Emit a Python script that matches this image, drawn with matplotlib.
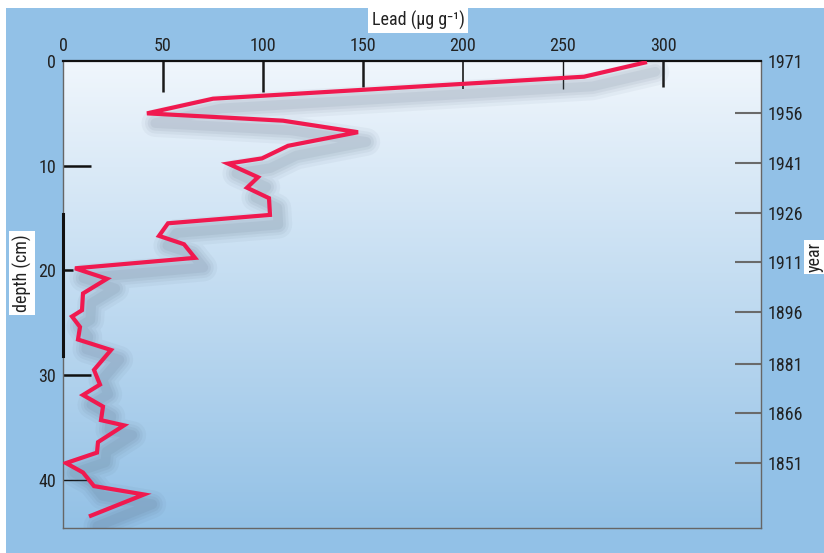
import matplotlib
matplotlib.use("Agg")
import matplotlib.pyplot as plt
import matplotlib.patheffects as pe
from matplotlib.patches import Rectangle
import numpy as np

plt.rcParams['font.family'] = ['Roboto Condensed', 'Liberation Sans', 'DejaVu Sans']

# Data
lead = [292, 260.5, 75, 42, 110, 147.5, 112.5, 99.5, 82.5, 97.5, 92, 103, 103.5,
        52.5, 48, 60.5, 66, 6, 22, 10, 9.5, 4.5, 8.5, 7.5, 24, 15.5, 18.5, 10,
        20, 19, 30.5, 17.5, 17, 1.5, 10, 15.5, 40.5, 13]
depth = [0.1, 1.5, 3.6, 5.0, 5.7, 6.8, 8.1, 9.3, 9.8, 11.1, 12.1, 13.1, 14.7,
         15.5, 16.7, 17.5, 18.8, 19.8, 20.8, 22.2, 23.8, 24.4, 25.4, 26.6, 27.6,
         29.5, 30.9, 31.9, 33.0, 34.3, 34.8, 36.4, 37.4, 38.4, 39.3, 40.6, 41.4, 43.5]
lead_ticks = [0, 50, 100, 150, 200, 250, 300]
depth_ticks = [0, 10, 20, 30, 40]
years = ['1971', '1956', '1941', '1926', '1911', '1896', '1881', '1866', '1851']
year_depth = [0, 4.95, 9.75, 14.5, 19.2, 24.0, 28.9, 33.6, 38.4]

W, H = 824, 553
FS = 13
fig = plt.figure(figsize=(W / 100, H / 100), dpi=100)
fig.patch.set_facecolor('white')
fig.patches.append(Rectangle((6 / W, 0), 1, (H - 8) / H, transform=fig.transFigure,
                             facecolor='#92c1e7', edgecolor='none', zorder=-10))

ax = fig.add_axes([63 / W, 1 - 528 / H, (761 - 63) / W, (528 - 61) / H])
ax.set_xlim(0, 349)
ax.set_ylim(44.6, 0)

# gradient background
grad = np.linspace(0, 1, 256).reshape(-1, 1)
top = np.array([0xf0, 0xf6, 0xfc]) / 255
bot = np.array([0x93, 0xc1, 0xe6]) / 255
img = top[None, None, :] * (1 - grad[:, :, None]) + bot[None, None, :] * grad[:, :, None]
ax.imshow(img, extent=[0, 1, 0, 1], transform=ax.transAxes, aspect='auto',
          zorder=0, origin='upper')

# line with soft shadow
shadow = []
for lw, a in [(20, 0.05), (15, 0.06), (11, 0.07), (7, 0.08)]:
    shadow.append(pe.SimpleLineShadow(offset=(6, -7), shadow_color='#4a5d72',
                                      alpha=a, linewidth=lw, joinstyle='round',
                                      capstyle='round'))
shadow.append(pe.Normal())
ax.plot(lead, depth, color='#f0194f', lw=3.0, solid_joinstyle='miter',
        solid_capstyle='butt', zorder=3, path_effects=shadow)

# x axis on top
ax.xaxis.set_ticks_position('top')
ax.xaxis.set_label_position('top')
ax.set_xticks(lead_ticks)
ax.set_xticklabels([str(v) for v in lead_ticks])
ax.tick_params(axis='x', which='major', direction='in', length=22, width=1.5,
               colors='#1a1a1a', labelsize=FS, pad=4, labelcolor='#222222')
tick_len = [0, 22, 22, 19, 20, 20, 19]
tick_col = ['#111111', '#111111', '#111111', '#111111', '#777777', '#555555', '#111111']
tick_w = [1.5, 1.8, 1.8, 1.8, 1.2, 1.0, 1.8]
for t, L, c, w in zip(ax.xaxis.get_major_ticks(), tick_len, tick_col, tick_w):
    t.tick2line.set_markersize(L)
    t.tick2line.set_color(c)
    t.tick2line.set_markeredgewidth(w)

# left depth axis
ax.set_yticks(depth_ticks)
ax.set_yticklabels([str(v) for v in depth_ticks])
ax.tick_params(axis='y', which='major', direction='in', length=20, width=1.8,
               colors='#111111', labelsize=FS, pad=5, labelcolor='#222222',
               right=False)
ylen = [0, 20, 7, 20, 18]
ycol = ['#111111', '#111111', '#111111', '#111111', '#555555']
yw = [1.8, 1.8, 1.8, 1.8, 1.0]
for t, L, c, w in zip(ax.yaxis.get_major_ticks(), ylen, ycol, yw):
    t.tick1line.set_markersize(L)
    t.tick1line.set_color(c)
    t.tick1line.set_markeredgewidth(w)

for s in ['left', 'right', 'bottom']:
    ax.spines[s].set_color('#666666')
    ax.spines[s].set_linewidth(1.0)
ax.spines['top'].set_color('#111111')
ax.spines['top'].set_linewidth(1.6)
ax.axvline(0, ymin=1 - 28.2 / 44.6, ymax=1 - 14.6 / 44.6, color='#111111',
           lw=2.2, zorder=5, clip_on=False)

# right year axis
ax2 = ax.twinx()
ax2.set_ylim(44.6, 0)
ax2.set_yticks(year_depth)
ax2.set_yticklabels(years)
ax2.tick_params(axis='y', direction='in', length=19, width=1.5, colors='#6a6a6a',
                labelsize=FS, pad=5, labelcolor='#222222')
ax2.yaxis.get_major_ticks()[0].tick2line.set_visible(False)
for s in ax2.spines.values():
    s.set_visible(False)

# axis titles in white boxes
box = dict(facecolor='white', edgecolor='none', pad=2.5)
fig.text(418 / W, 1 - 20 / H, 'Lead (µg g⁻¹)', ha='center', va='center',
         fontsize=FS, color='#222222', bbox=box)
fig.text(22 / W, 1 - 273 / H, 'depth (cm)', ha='center', va='center',
         rotation=90, fontsize=FS, color='#222222', bbox=box)
fig.text(815 / W, 1 - 257 / H, 'year', ha='center', va='center',
         rotation=90, fontsize=FS, color='#222222',
         bbox=dict(facecolor='white', edgecolor='none', pad=1.5))

fig.savefig('out.png', dpi=100)
